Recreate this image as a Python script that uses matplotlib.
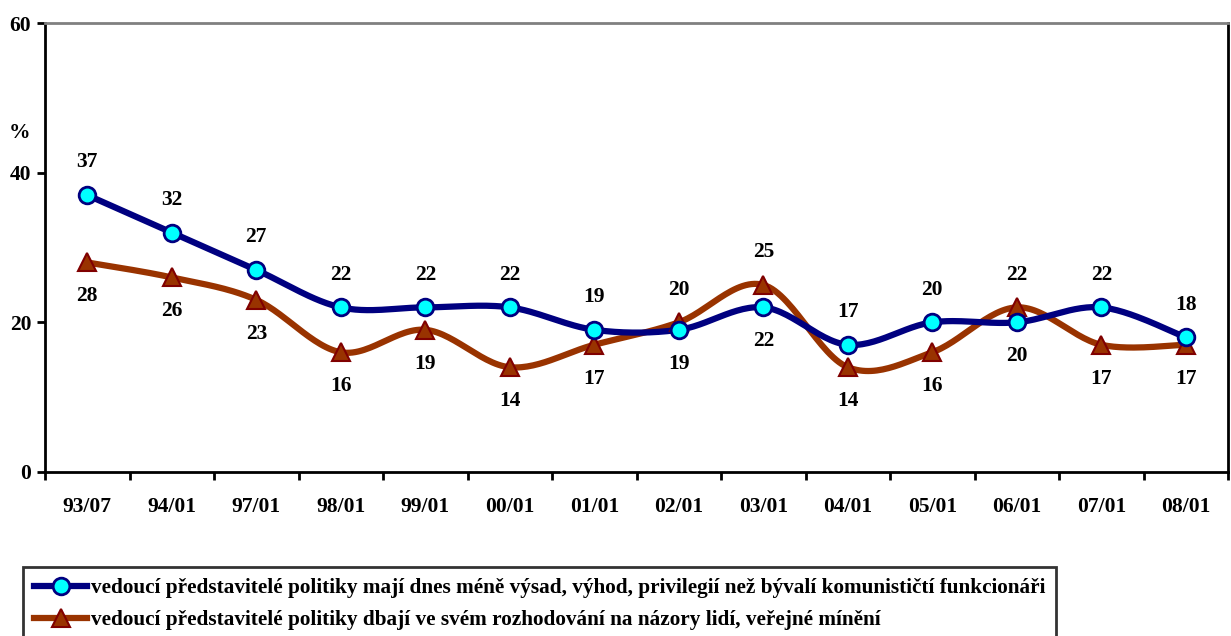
import numpy as np
import matplotlib.pyplot as plt
from matplotlib.lines import Line2D

plt.rcParams['font.family'] = ['Liberation Serif', 'DejaVu Serif']
plt.rcParams['font.weight'] = 'bold'

cats = ['93/07', '94/01', '97/01', '98/01', '99/01', '00/01', '01/01',
        '02/01', '03/01', '04/01', '05/01', '06/01', '07/01', '08/01']
s1 = [37, 32, 27, 22, 22, 22, 19, 19, 22, 17, 20, 20, 22, 18]
s2 = [28, 26, 23, 16, 19, 14, 17, 20, 25, 14, 16, 22, 17, 17]
lab1 = 'vedoucí představitelé politiky mají dnes méně výsad, výhod, privilegií než bývalí komunističtí funkcionáři'
lab2 = 'vedoucí představitelé politiky dbají ve svém rozhodování na názory lidí, veřejné mínění'


def smooth(x, y, n=30):
    # excel-like smoothed line (catmull-rom bezier)
    x = np.asarray(x, float)
    y = np.asarray(y, float)
    px = np.concatenate([[x[0]], x, [x[-1]]])
    py = np.concatenate([[y[0]], y, [y[-1]]])
    xs, ys = [], []
    t = np.linspace(0, 1, n)
    for i in range(1, len(px) - 2):
        p0 = np.array([px[i], py[i]])
        p3 = np.array([px[i + 1], py[i + 1]])
        p1 = p0 + (np.array([px[i + 1], py[i + 1]]) - np.array([px[i - 1], py[i - 1]])) / 6
        p2 = p3 - (np.array([px[i + 2], py[i + 2]]) - np.array([px[i], py[i]])) / 6
        b = ((1 - t) ** 3)[:, None] * p0 + (3 * (1 - t) ** 2 * t)[:, None] * p1 \
            + (3 * (1 - t) * t ** 2)[:, None] * p2 + (t ** 3)[:, None] * p3
        xs.extend(b[:, 0])
        ys.extend(b[:, 1])
    return xs, ys


x = np.arange(len(cats))
c1, c2 = '#000080', '#993300'
fs = 15.5

fig = plt.figure(figsize=(12.31, 6.36), dpi=100)
ax = fig.add_axes([0.0366, 0.2579, 0.961, 0.7059])

xs, ys = smooth(x, s1)
ax.plot(xs, ys, color=c1, lw=4.5, solid_capstyle='round', zorder=3)
ax.plot(x, s1, ls='none', marker='o', ms=12, mfc='#00FFFF', mec=c1, mew=2, zorder=5)
xs, ys = smooth(x, s2)
ax.plot(xs, ys, color=c2, lw=4.5, solid_capstyle='round', zorder=2)
ax.plot(x, s2, ls='none', marker='^', ms=13, mfc=c2, mec='#800000', mew=1.5, zorder=4)

for i in range(len(cats)):
    for v, o in ((s1[i], s2[i]), (s2[i], s1[i])):
        dy = 23.5 if v >= o else -24.5
        ax.annotate(str(v), (x[i], v), xytext=(0, dy), textcoords='offset points',
                    ha='center', va='center', fontsize=fs, fontweight='bold')

ax.set_xlim(-0.5, len(cats) - 0.5)
ax.set_ylim(0, 60)
ax.set_yticks([0, 20, 40, 60])
ax.set_xticks(x)
ax.set_xticklabels(cats)
ax.set_xticks(np.arange(len(cats) + 1) - 0.5, minor=True)
ax.tick_params(axis='x', which='major', length=0, pad=18, labelsize=fs)
ax.tick_params(axis='x', which='minor', length=6, width=2, direction='out')
ax.tick_params(axis='y', length=6, width=2, labelsize=fs, pad=4)
for s in ['left', 'bottom', 'right']:
    ax.spines[s].set_linewidth(2)
    ax.spines[s].set_color('black')
ax.spines['top'].set_color('#808080')
ax.spines['top'].set_linewidth(2)
ax.text(-0.022, 0.755, '%', transform=ax.transAxes, ha='center', va='center',
        fontsize=fs, fontweight='bold')

h1 = Line2D([], [], color=c1, lw=4.5, marker='o', ms=12, mfc='#00FFFF', mec=c1, mew=2)
h2 = Line2D([], [], color=c2, lw=4.5, marker='^', ms=13, mfc=c2, mec='#800000', mew=1.5)
leg = fig.legend([h1, h2], [lab1, lab2], loc='upper left', bbox_to_anchor=(0.019, 0.108),
                 fontsize=15.35, frameon=True, fancybox=False, handlelength=2.5,
                 handletextpad=0.15, borderpad=0.5, labelspacing=0.58, borderaxespad=0)
leg.get_frame().set_edgecolor('black')
leg.get_frame().set_linewidth(2)

fig.savefig('out.png', dpi=100)
